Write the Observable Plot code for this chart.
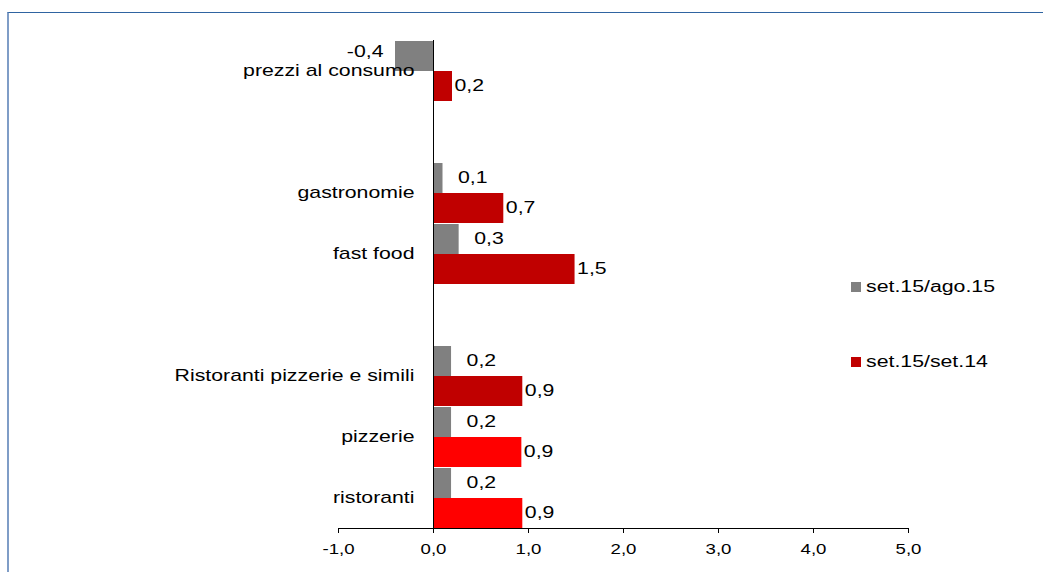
<!DOCTYPE html>
<html><head><meta charset="utf-8">
<script src="https://cdn.jsdelivr.net/npm/d3@7"></script>
<script src="https://cdn.jsdelivr.net/npm/@observablehq/plot@0.6"></script>
<style>
body{margin:0;background:#fff;}
#wrap{position:relative;width:1043px;height:572px;overflow:hidden;background:#fff;font-family:"Liberation Sans",Arial,sans-serif;}
#border{position:absolute;left:7px;top:12px;right:0;bottom:0;border-top:1px solid #2f64a1;border-left:2px solid #7f9dc7;pointer-events:none;}
#chart{position:absolute;left:0;top:0;}
.legend-item{position:absolute;left:851px;height:16px;line-height:16px;font-size:16px;color:#000;white-space:nowrap;}
.legend-item .sw{position:absolute;left:0;top:3px;width:10px;height:10px;}
.legend-item .lb{position:absolute;left:15px;top:0;transform:scaleX(1.33);transform-origin:0 50%;}
</style></head>
<body><div id="wrap"><div id="chart"></div><div id="border"></div></div>
<script>
// ---- data ----
const slots = ["prezzi al consumo", "gap1", "gastronomie", "fast food", "gap2", "Ristoranti pizzerie e simili", "pizzerie", "ristoranti"];
const categories = ["prezzi al consumo", "gastronomie", "fast food", "Ristoranti pizzerie e simili", "pizzerie", "ristoranti"];
const seriesNames = ["set.15/ago.15", "set.15/set.14"];
const monthly = [-0.4, 0.1, 0.27, 0.19, 0.19, 0.19];
const yearly = [0.2, 0.74, 1.49, 0.94, 0.93, 0.94];
const xTicks = [-1, 0, 1, 2, 3, 4, 5];
const brightRedCats = ["pizzerie", "ristoranti"];

// ---- styles ----
const GRAY = "#808080", DARKRED = "#C00000", RED = "#FF0000";
const S = 1.33; // horizontal text stretch

const rows = [];
categories.forEach((c, i) => {
  rows.push({cat: c, series: seriesNames[0], value: monthly[i]});
  rows.push({cat: c, series: seriesNames[1], value: yearly[i]});
});
const colorOf = d => d.series === seriesNames[0] ? GRAY : (brightRedCats.includes(d.cat) ? RED : DARKRED);
const fmt = v => v.toFixed(1).replace(".", ",");

const grayRows = rows.filter(d => d.series === seriesNames[0]);
const redRows = rows.filter(d => d.series === seriesNames[1]);

const chart = Plot.plot({
  width: 1043, height: 572,
  marginLeft: 338, marginRight: 135, marginTop: 40, marginBottom: 44,
  style: {fontFamily: "Liberation Sans, Arial, sans-serif", fontSize: "16px", background: "transparent", color: "#000"},
  x: {domain: [-1, 5], label: null},
  fy: {domain: slots, padding: 0, axis: null},
  y: {domain: seriesNames, padding: 0, axis: null},
  color: {type: "identity"},
  marks: [
    Plot.barX(rows, {fy: "cat", y: "series", x: "value", fill: colorOf}),
    Plot.ruleX(slots, {fy: d => d, x: d => 0, stroke: "#000", strokeWidth: 1}),
    Plot.frame({anchor: "bottom", facetAnchor: "bottom", stroke: "#000"}),
    Plot.axisX({facetAnchor: "bottom", ticks: xTicks, tickFormat: fmt, label: null, tickSize: 5, tickPadding: 20, fontSize: 14, stroke: "#000", fill: "#000"}),
    Plot.text(grayRows.filter(d => d.value >= 0), {fy: "cat", y: "series", x: "value", text: d => fmt(d.value), textAnchor: "start", dx: 15, dy: 4, fontSize: 16, fill: "#000"}),
    Plot.text(grayRows.filter(d => d.value < 0), {fy: "cat", y: "series", x: "value", text: d => fmt(d.value), textAnchor: "end", dx: -12, dy: 0, fontSize: 16, fill: "#000"}),
    Plot.text(redRows, {fy: "cat", y: "series", x: "value", text: d => fmt(d.value), textAnchor: "start", dx: 2, dy: 4, fontSize: 16, fill: "#000"}),
    Plot.text(categories, {fy: d => d, x: d => 0, text: d => d, textAnchor: "end", dx: -19, dy: 5, fontSize: 16, fill: "#000"})
  ]
});

// stretch every text horizontally around its anchor point
for (const t of chart.querySelectorAll("text")) {
  const x = +t.getAttribute("x") || 0, y = +t.getAttribute("y") || 0;
  t.removeAttribute("x"); t.removeAttribute("y");
  const tr = t.getAttribute("transform") || "";
  t.setAttribute("transform", `${tr} translate(${x},${y}) scale(${S},1)`.trim());
}
document.getElementById("chart").appendChild(chart);

// legend
const wrap = document.getElementById("wrap");
const legendColors = [GRAY, DARKRED];
seriesNames.forEach((name, i) => {
  const item = document.createElement("div");
  item.className = "legend-item";
  item.style.top = (279 + i * 75) + "px";
  item.innerHTML = `<span class="sw" style="background:${legendColors[i]}"></span><span class="lb"></span>`;
  item.querySelector(".lb").textContent = name;
  wrap.appendChild(item);
});
</script>
</body></html>
